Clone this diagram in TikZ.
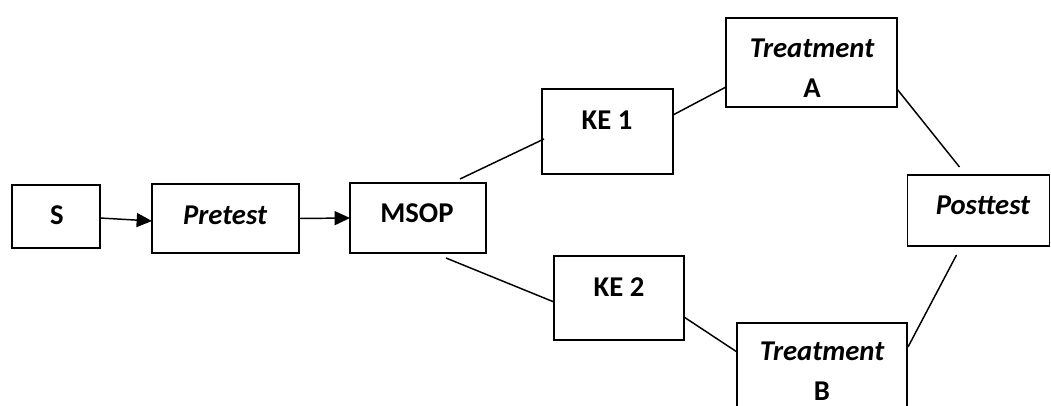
\documentclass[tikz,border=0pt]{standalone}
\usepackage{fontspec}
\setmainfont{Carlito}
\usetikzlibrary{arrows.meta,calc}
\tikzset{
  box/.style={draw=black, line width=1.1pt, inner sep=0pt, outer sep=0pt, fill=white},
  lbl/.style={inner sep=0pt, outer sep=0pt, align=center, font=\fontsize{21.5pt}{30pt}\selectfont\bfseries},
  conn/.style={draw=black, line width=1.1pt},
  arr/.style={conn, -{Triangle[length=11.5pt,width=10.5pt]}}
}
\begin{document}
\begin{tikzpicture}[x=0.75pt,y=-0.75pt]
\useasboundingbox (0,0) rectangle (1051,406);
\clip (0,0) rectangle (1051,406);
\fill[white] (0,0) rectangle (1051,406);
% boxes
\node[box, minimum width=66pt, minimum height=47.25pt] (s) at (56,216.5) {};
\node[box, minimum width=110.25pt, minimum height=51.75pt] (pre) at (225.5,218.5) {};
\node[box, minimum width=102pt, minimum height=52.5pt] (msop) at (418,218) {};
\node[box, minimum width=98.25pt, minimum height=63.75pt] (ke1) at (607.5,131.5) {};
\node[box, minimum width=128.25pt, minimum height=66.75pt] (ta) at (811.5,62.5) {};
\node[box, minimum width=97.5pt, minimum height=63pt] (ke2) at (619,298) {};
\node[box, minimum width=127.5pt, minimum height=72.75pt] (tb) at (822,371.5) {};
\node[box, minimum width=106.5pt, minimum height=53.25pt] (post) at (978.5,210.5) {};
% labels
\node[lbl] (st) at (57,215) {S};
\node[lbl] (pret) at (225,215) {\itshape Pretest};
\node[lbl] (msopt) at (417,213) {MSOP};
\node[lbl] (ke1t) at (607,120) {KE 1};
\node[lbl] (tat) at (812,68) {\itshape Treatment\\A};
\node[lbl] (ke2t) at (619,287) {KE 2};
\node[lbl] (tbt) at (822,371) {\itshape Treatment\\B};
\node[lbl] (postt) at (983,205) {\itshape Posttest};
% connectors
\draw[arr] ($(s.east)+(0,1.5)$) -- ($(pre.west)+(0,2.5)$);
\draw[arr] (pre.east) -- (msop.west);
\draw[conn] ($(msop.north)+(42,-4)$) -- ($(ke1.west)+(2,7.5)$);
\draw[conn] ($(ke1.east)+(0,-16.5)$) -- ($(ta.west)+(0,24.5)$);
\draw[conn] ($(ta.east)+(0,26.5)$) -- ($(post.north)+(-19,-8)$);
\draw[conn] ($(msop.south)+(28,5)$) -- ($(ke2.west)+(0,4)$);
\draw[conn] ($(ke2.east)+(0,19)$) -- ($(tb.north west)+(0,29)$);
\draw[conn] ($(tb.north east)+(1,24)$) -- ($(post.south)+(-22,9)$);
\end{tikzpicture}
\end{document}
